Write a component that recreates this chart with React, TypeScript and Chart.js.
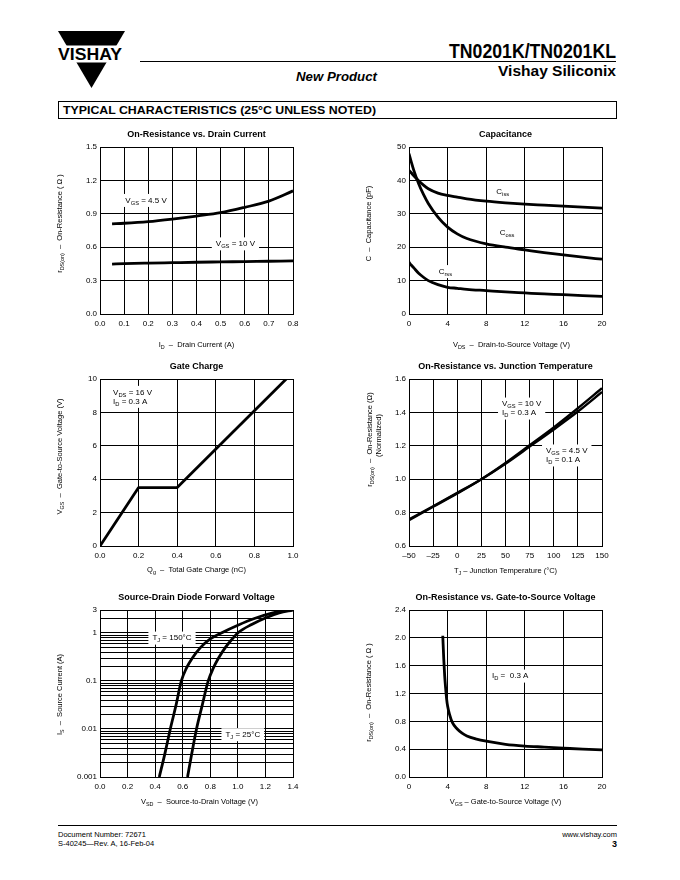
import React, { useEffect, useRef } from 'react';
import { Chart, registerables } from 'chart.js';

Chart.register(...registerables);

const FONT = '"Liberation Sans", Arial, Helvetica, sans-serif';
Chart.defaults.font.family = FONT;
Chart.defaults.color = '#000';

// ================= DATA =================
// 1. On-Resistance vs. Drain Current
const drainCurrentA = [0.05, 0.1, 0.2, 0.3, 0.4, 0.5, 0.6, 0.7, 0.8];
const rdsOnVgs45 = [0.81, 0.815, 0.83, 0.853, 0.88, 0.91, 0.958, 1.014, 1.106];
const rdsOnVgs10 = [0.448, 0.452, 0.457, 0.461, 0.465, 0.468, 0.471, 0.474, 0.477];

// 2. Capacitance
const capVdsV = [0, 0.25, 0.5, 1, 1.5, 2, 3, 4, 5, 6, 8, 10, 12, 14, 16, 18, 20];
const cissPf = [43, 42.2, 41.4, 39.9, 38.6, 37.5, 36.2, 35.5, 35.0, 34.5, 33.8, 33.3, 32.9, 32.6, 32.3, 32.0, 31.7];
const cossPf = [48, 45.4, 43.0, 39.0, 35.8, 33.1, 29.0, 26.0, 24.0, 22.6, 21.0, 20.0, 19.2, 18.4, 17.7, 17.0, 16.4];
const crssPf = [15.5, 14.6, 13.8, 12.2, 11.0, 10.0, 8.8, 8.0, 7.7, 7.4, 7.0, 6.6, 6.3, 6.0, 5.8, 5.5, 5.3];

// 3. Gate Charge
const gateChargeNc = [0, 0.2, 0.4, 0.965];
const gateVgsV = [0, 3.5, 3.5, 10];

// 4. On-Resistance vs. Junction Temperature
const junctionTempC = [-50, -25, 0, 25, 50, 75, 100, 125, 150];
const rdsNormVgs10 = [0.755, 0.835, 0.915, 1.0, 1.097, 1.203, 1.31, 1.425, 1.545];
const rdsNormVgs45 = [0.76, 0.838, 0.918, 1.0, 1.093, 1.195, 1.298, 1.405, 1.522];

// 5. Source-Drain Diode Forward Voltage
const vsdTj150V = [0.43, 0.47, 0.51, 0.55, 0.59, 0.625, 0.67, 0.73, 0.8, 0.88, 1.0, 1.12, 1.24, 1.36];
const isTj150A = [0.001, 0.003, 0.01, 0.03, 0.1, 0.18, 0.3, 0.5, 0.75, 1.0, 1.45, 2.0, 2.55, 3.0];
const vsdTj25V = [0.635, 0.665, 0.7, 0.74, 0.785, 0.82, 0.86, 0.91, 0.96, 1.0, 1.1, 1.2, 1.3, 1.4];
const isTj25A = [0.001, 0.003, 0.01, 0.03, 0.1, 0.18, 0.3, 0.5, 0.75, 1.0, 1.5, 2.05, 2.6, 3.0];

// 6. On-Resistance vs. Gate-to-Source Voltage
const vgsV = [3.5, 3.6, 3.7, 3.8, 3.9, 4.0, 4.2, 4.5, 5, 5.5, 6, 7, 8, 10, 12, 14, 16, 18, 20];
const rdsVsVgs = [2.03, 1.7, 1.45, 1.27, 1.12, 1.02, 0.9, 0.78, 0.69, 0.63, 0.59, 0.545, 0.515, 0.47, 0.445, 0.43, 0.415, 0.4, 0.39];

// Log axis grid values and labels (diode chart)
const diodeGridA = [
  0.001, 0.002, 0.003, 0.004, 0.005, 0.006, 0.007, 0.008, 0.009,
  0.01, 0.02, 0.03, 0.04, 0.05, 0.06, 0.07, 0.08, 0.09,
  0.1, 0.2, 0.3, 0.4, 0.5, 0.6, 0.7, 0.8, 0.9,
  1, 2, 3,
];
const diodeLabeledA = [0.001, 0.01, 0.1, 1, 3];
const diodeLabelText = ['0.001', '0.01', '0.1', '1', '3'];

// ================= LAYOUT =================
const PAD_L = 52;
const PAD_T = 22;
const PAD_R = 20;
const PAD_B = 40;
const PLOT_W = 193;
const PLOT_H = 167;
const CW = PAD_L + PLOT_W + PAD_R;
const CH = PAD_T + PLOT_H + PAD_B;

const AXIS_TITLE_SIZE = 7.5;
const NOTE_SIZE = 8;
const TITLE_SIZE = 9;
const NOTE_LH = 9;

type Part = { t: string; sub?: boolean };
type Rich = Part[];
interface Note { x: number; y: number; lines: Rich[] }
interface YTitle { parts: Rich; dx: number; dy: number }
interface Decor { title: string; xTitle: Rich; xDy: number; xDx?: number; yTitles: YTitle[]; notes: Note[] }

const N = (t: string): Part => ({ t });
const S = (t: string): Part => ({ t, sub: true });

function partFont(p: Part, size: number) {
  return `${p.sub ? size * 0.72 : size}px ${FONT}`;
}
function richWidth(ctx: CanvasRenderingContext2D, parts: Rich, size: number) {
  let w = 0;
  for (const p of parts) {
    ctx.font = partFont(p, size);
    w += ctx.measureText(p.t).width;
  }
  return w;
}
function drawRich(ctx: CanvasRenderingContext2D, parts: Rich, left: number, mid: number, size: number) {
  let x = left;
  for (const p of parts) {
    ctx.font = partFont(p, size);
    ctx.fillText(p.t, x, p.sub ? mid + size * 0.32 : mid);
    x += ctx.measureText(p.t).width;
  }
}

function decorPlugin(d: Decor) {
  return {
    id: 'decor',
    beforeDatasetsDraw(chart: any) {
      const { ctx, scales } = chart;
      ctx.save();
      ctx.textBaseline = 'middle';
      ctx.textAlign = 'left';
      for (const n of d.notes) {
        const px = scales.x.getPixelForValue(n.x);
        const py = scales.y.getPixelForValue(n.y);
        const w = Math.max(...n.lines.map((l) => richWidth(ctx, l, NOTE_SIZE)));
        ctx.fillStyle = '#fff';
        ctx.fillRect(px - 4, py - 6.5, w + 8, (n.lines.length - 1) * NOTE_LH + 13);
        ctx.fillStyle = '#000';
        n.lines.forEach((l, i) => drawRich(ctx, l, px, py + i * NOTE_LH, NOTE_SIZE));
      }
      ctx.restore();
    },
    afterDraw(chart: any) {
      const { ctx, chartArea: a } = chart;
      const cx = (a.left + a.right) / 2;
      const cy = (a.top + a.bottom) / 2;
      ctx.save();
      ctx.fillStyle = '#000';
      ctx.textBaseline = 'middle';
      ctx.font = `bold ${TITLE_SIZE}px ${FONT}`;
      ctx.textAlign = 'center';
      ctx.fillText(d.title, cx, a.top - 12);
      ctx.textAlign = 'left';
      const xw = richWidth(ctx, d.xTitle, AXIS_TITLE_SIZE);
      drawRich(ctx, d.xTitle, cx + (d.xDx || 0) - xw / 2, a.bottom + d.xDy, AXIS_TITLE_SIZE);
      for (const yt of d.yTitles) {
        const w = richWidth(ctx, yt.parts, AXIS_TITLE_SIZE);
        ctx.save();
        ctx.translate(a.left + yt.dx, cy + yt.dy);
        ctx.rotate(-Math.PI / 2);
        drawRich(ctx, yt.parts, -w / 2, 0, AXIS_TITLE_SIZE);
        ctx.restore();
      }
      ctx.restore();
    },
  };
}

const tickFont = { family: FONT, size: 8 };
const gridOpts = { color: '#000', lineWidth: 1, drawTicks: false };
const borderOpts = { display: true, color: '#000', width: 1 };

function fitFor(axis: 'x' | 'y') {
  return (s: any) => {
    if (axis === 'x') s.height = PAD_B;
    else s.width = PAD_L;
  };
}

function linAxis(axis: 'x' | 'y', min: number, max: number, step: number, fmt: (v: number) => string) {
  return {
    type: 'linear',
    position: axis === 'x' ? 'bottom' : 'left',
    min,
    max,
    ticks: {
      stepSize: step,
      autoSkip: false,
      maxRotation: 0,
      minRotation: 0,
      padding: axis === 'x' ? 5 : 3,
      font: tickFont,
      color: '#000',
      callback: (v: any) => fmt(Number(v)),
    },
    grid: gridOpts,
    border: borderOpts,
    afterFit: fitFor(axis),
  };
}

function logAxisDiode() {
  return {
    type: 'logarithmic',
    position: 'left',
    min: 0.001,
    max: 3,
    afterBuildTicks: (s: any) => {
      s.ticks = diodeGridA.map((v) => ({ value: v }));
    },
    ticks: {
      autoSkip: false,
      padding: 3,
      font: tickFont,
      color: '#000',
      callback: (v: any) => {
        const val = Number(v);
        const i = diodeLabeledA.findIndex((m) => Math.abs(m - val) / m < 1e-6);
        return i >= 0 ? diodeLabelText[i] : '';
      },
    },
    grid: gridOpts,
    border: borderOpts,
    afterFit: fitFor('y'),
  };
}

function series(xs: number[], ys: number[], smooth = true, width = 2.8) {
  return {
    data: xs.map((x, i) => ({ x, y: ys[i] })),
    borderColor: '#000',
    backgroundColor: '#000',
    borderWidth: width,
    pointRadius: 0,
    fill: false,
    tension: 0,
    cubicInterpolationMode: smooth ? 'monotone' : 'default',
    borderJoinStyle: 'round',
  };
}

function makeConfig(datasets: any[], x: any, y: any, decor: Decor): any {
  return {
    type: 'line',
    data: { datasets },
    options: {
      responsive: false,
      maintainAspectRatio: false,
      animation: false,
      devicePixelRatio: 1,
      events: [],
      layout: { padding: { left: 0, top: PAD_T, right: PAD_R, bottom: 0 } },
      plugins: { legend: { display: false }, tooltip: { enabled: false }, title: { display: false } },
      scales: { x, y },
    },
    plugins: [decorPlugin(decor)],
  };
}

const f1 = (v: number) => v.toFixed(1);
const f0 = (v: number) => String(Math.round(v));
const fTemp = (v: number) => (v < 0 ? '\u2013' + Math.abs(v) : String(v));

const build1 = () =>
  makeConfig(
    [series(drainCurrentA, rdsOnVgs45), series(drainCurrentA, rdsOnVgs10)],
    linAxis('x', 0, 0.8, 0.1, f1),
    linAxis('y', 0, 1.5, 0.3, f1),
    {
      title: 'On-Resistance vs. Drain Current',
      xTitle: [N('I'), S('D'), N('  \u2013  Drain Current (A)')],
      xDy: 31,
      yTitles: [{ parts: [N('r'), S('DS(on)'), N('  \u2013  On-Resistance ( \u03A9 )')], dx: -40, dy: -7 }],
      notes: [
        { x: 0.105, y: 1.02, lines: [[N('V'), S('GS'), N(' = 4.5 V')]] },
        { x: 0.48, y: 0.63, lines: [[N('V'), S('GS'), N(' = 10 V')]] },
      ],
    }
  );

const build2 = () =>
  makeConfig(
    [series(capVdsV, cissPf), series(capVdsV, cossPf), series(capVdsV, crssPf)],
    linAxis('x', 0, 20, 4, f0),
    linAxis('y', 0, 50, 10, f0),
    {
      title: 'Capacitance',
      xTitle: [N('V'), S('DS'), N('  \u2013  Drain-to-Source Voltage (V)')],
      xDy: 31,
      xDx: 6,
      yTitles: [{ parts: [N('C  \u2013  Capacitance (pF)')], dx: -40, dy: -7 }],
      notes: [
        { x: 9.05, y: 36.6, lines: [[N('C'), S('iss')]] },
        { x: 9.4, y: 24.2, lines: [[N('C'), S('oss')]] },
        { x: 3.07, y: 12.7, lines: [[N('C'), S('rss')]] },
      ],
    }
  );

const build3 = () =>
  makeConfig(
    [series(gateChargeNc, gateVgsV, false)],
    linAxis('x', 0, 1, 0.2, f1),
    linAxis('y', 0, 10, 2, f0),
    {
      title: 'Gate Charge',
      xTitle: [N('Q'), S('g'), N('  \u2013  Total Gate Charge (nC)')],
      xDy: 24,
      yTitles: [{ parts: [N('V'), S('GS'), N('  \u2013  Gate-to-Source Voltage (V)')], dx: -40, dy: -6 }],
      notes: [
        {
          x: 0.068,
          y: 9.2,
          lines: [
            [N('V'), S('DS'), N(' = 16 V')],
            [N('I'), S('D'), N(' = 0.3 A')],
          ],
        },
      ],
    }
  );

const build4 = () =>
  makeConfig(
    [series(junctionTempC, rdsNormVgs10, true, 2.4), series(junctionTempC, rdsNormVgs45, true, 2.4)],
    linAxis('x', -50, 150, 25, fTemp),
    linAxis('y', 0.6, 1.6, 0.2, f1),
    {
      title: 'On-Resistance vs. Junction Temperature',
      xTitle: [N('T'), S('J'), N(' \u2013 Junction Temperature (\u00B0C)')],
      xDy: 25,
      yTitles: [
        { parts: [N('r'), S('DS(on)'), N('  \u2013  On-Resistance (\u03A9)')], dx: -39, dy: -23 },
        { parts: [N('(Normalized)')], dx: -30, dy: -27 },
      ],
      notes: [
        {
          x: 46.4,
          y: 1.45,
          lines: [
            [N('V'), S('GS'), N(' = 10 V')],
            [N('I'), S('D'), N(' = 0.3 A')],
          ],
        },
        {
          x: 92,
          y: 1.169,
          lines: [
            [N('V'), S('GS'), N(' = 4.5 V')],
            [N('I'), S('D'), N(' = 0.1 A')],
          ],
        },
      ],
    }
  );

const build5 = () =>
  makeConfig(
    [series(vsdTj150V, isTj150A), series(vsdTj25V, isTj25A)],
    linAxis('x', 0, 1.4, 0.2, f1),
    logAxisDiode(),
    {
      title: 'Source-Drain Diode Forward Voltage',
      xTitle: [N('V'), S('SD'), N('  \u2013  Source-to-Drain Voltage (V)')],
      xDy: 25,
      xDx: 3,
      yTitles: [{ parts: [N('I'), S('S'), N('  \u2013  Source Current (A)')], dx: -40, dy: 1 }],
      notes: [
        { x: 0.38, y: 0.78, lines: [[N('T'), S('J'), N(' = 150\u00B0C')]] },
        { x: 0.91, y: 0.0076, lines: [[N('T'), S('J'), N(' = 25\u00B0C')]] },
      ],
    }
  );

const build6 = () =>
  makeConfig(
    [series(vgsV, rdsVsVgs)],
    linAxis('x', 0, 20, 4, f0),
    linAxis('y', 0, 2.4, 0.4, f1),
    {
      title: 'On-Resistance vs. Gate-to-Source Voltage',
      xTitle: [N('V'), S('GS'), N(' \u2013 Gate-to-Source Voltage (V)')],
      xDy: 25,
      yTitles: [{ parts: [N('r'), S('DS(on)'), N('  \u2013  On-Resistance ( \u03A9 )')], dx: -40, dy: -1 }],
      notes: [{ x: 8.6, y: 1.45, lines: [[N('I'), S('D'), N(' =  0.3 A')]] }],
    }
  );

function PlotCanvas({ left, top, build }: { left: number; top: number; build: () => any }) {
  const ref = useRef<HTMLCanvasElement | null>(null);
  useEffect(() => {
    if (!ref.current) return;
    const chart = new Chart(ref.current, build());
    return () => chart.destroy();
  }, [build]);
  return (
    <canvas
      ref={ref}
      width={CW}
      height={CH}
      style={{ position: 'absolute', left: left - PAD_L, top: top - PAD_T, width: CW, height: CH }}
    />
  );
}

const COL = [100, 409];
const ROW = [147, 379, 610];

export default function App() {
  return (
    <div
      style={{
        position: 'absolute',
        left: 0,
        top: 0,
        width: 680,
        height: 880,
        background: '#fff',
        fontFamily: FONT,
        color: '#000',
        overflow: 'hidden',
      }}
    >
      <svg width={680} height={880} style={{ position: 'absolute', left: 0, top: 0 }}>
        {/* Logo */}
        <polygon points="58,31 125,31 91.5,88" fill="#000" />
        <rect x={50} y={45.5} width={85} height={17} fill="#fff" />
        <text x={90} y={60} textAnchor="middle" fontFamily={FONT} fontWeight="bold" fontSize={17} textLength={64} lengthAdjust="spacingAndGlyphs">
          VISHAY
        </text>
        {/* Header */}
        <text x={616} y={58} textAnchor="end" fontFamily={FONT} fontWeight="bold" fontSize={21} textLength={167} lengthAdjust="spacingAndGlyphs">
          TN0201K/TN0201KL
        </text>
        <line x1={140} y1={61.5} x2={616} y2={61.5} stroke="#000" strokeWidth={1} />
        <text x={616} y={76} textAnchor="end" fontFamily={FONT} fontWeight="bold" fontSize={15} textLength={118} lengthAdjust="spacingAndGlyphs">
          Vishay Siliconix
        </text>
        <text x={336.5} y={81} textAnchor="middle" fontFamily={FONT} fontWeight="bold" fontStyle="italic" fontSize={13} textLength={81} lengthAdjust="spacingAndGlyphs">
          New Product
        </text>
        <rect x={58.5} y={101.5} width={558} height={17} fill="#fff" stroke="#000" strokeWidth={1} />
        <text x={63} y={114} fontFamily={FONT} fontWeight="bold" fontSize={11} textLength={313} lengthAdjust="spacingAndGlyphs">
          TYPICAL CHARACTERISTICS (25°C UNLESS NOTED)
        </text>
        {/* Footer */}
        <line x1={58} y1={825.5} x2={617} y2={825.5} stroke="#000" strokeWidth={1} />
        <text x={58} y={836.5} fontFamily={FONT} fontSize={7.5}>
          Document Number:  72671
        </text>
        <text x={58} y={846} fontFamily={FONT} fontSize={7.5}>
          S-40245—Rev. A, 16-Feb-04
        </text>
        <text x={617} y={836.5} textAnchor="end" fontFamily={FONT} fontSize={7.5}>
          www.vishay.com
        </text>
        <text x={617} y={847} textAnchor="end" fontFamily={FONT} fontWeight="bold" fontSize={9}>
          3
        </text>
      </svg>
      <PlotCanvas left={COL[0]} top={ROW[0]} build={build1} />
      <PlotCanvas left={COL[1]} top={ROW[0]} build={build2} />
      <PlotCanvas left={COL[0]} top={ROW[1]} build={build3} />
      <PlotCanvas left={COL[1]} top={ROW[1]} build={build4} />
      <PlotCanvas left={COL[0]} top={ROW[2]} build={build5} />
      <PlotCanvas left={COL[1]} top={ROW[2]} build={build6} />
    </div>
  );
}
